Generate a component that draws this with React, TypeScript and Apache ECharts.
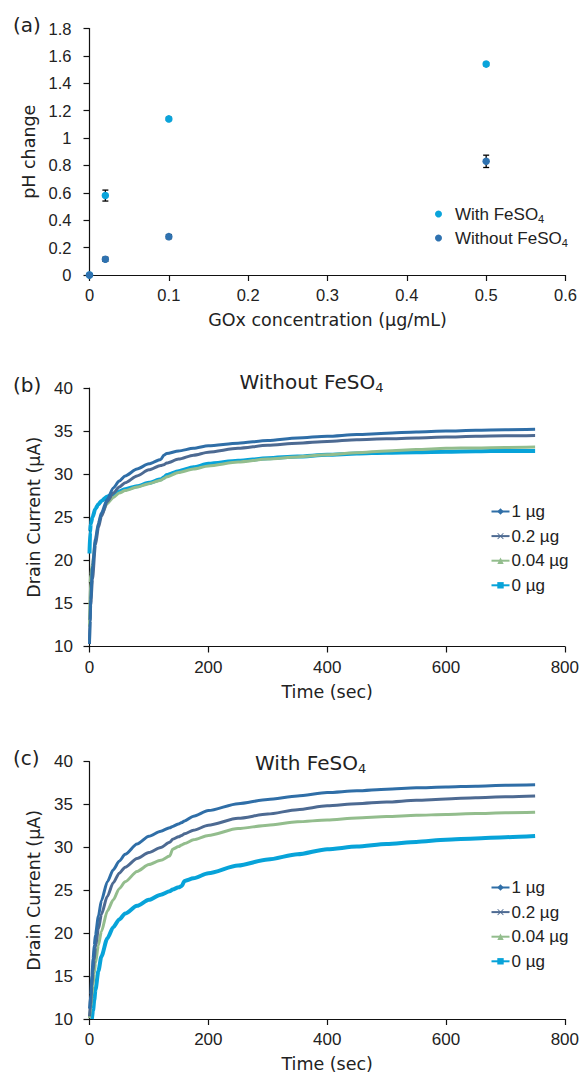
import React, { useEffect, useRef } from 'react';
import * as echarts from 'echarts';

// ---- Panel (a): pH change vs GOx concentration ----
const phX = [0, 0.02, 0.1, 0.5];
const phWith = [0, 0.58, 1.14, 1.54];
const phWithErr = [0.01, 0.04, 0.012, 0.012];
const phWithout = [0, 0.115, 0.28, 0.83];
const phWithoutErr = [0.01, 0.015, 0.015, 0.045];

// ---- Panel (b): Without FeSO4 ----
const timesB = [0, 1, 2, 5, 10, 15, 20, 30, 40, 50, 60, 80, 100, 120, 125, 130, 150, 175, 200, 250, 300, 350, 400, 450, 500, 550, 600, 650, 700, 750];
const b1ug = [10.3, 13, 15.4, 19.3, 22.5, 24.3, 25.5, 27.1, 28.4, 29.2, 29.8, 30.6, 31.2, 31.7, 32.2, 32.4, 32.7, 33.0, 33.3, 33.6, 33.9, 34.2, 34.4, 34.6, 34.75, 34.9, 35.0, 35.1, 35.15, 35.2];
const b02ug = [10.7, 13, 14.8, 17.8, 21.8, 23.8, 25.1, 26.8, 27.8, 28.5, 29.0, 29.8, 30.5, 31.0, 31.1, 31.3, 31.75, 32.2, 32.55, 33.0, 33.35, 33.6, 33.8, 34.0, 34.1, 34.2, 34.3, 34.4, 34.45, 34.5];
const b004ug = [12.3, 17.3, 18.3, 19.6, 22.2, 24.2, 25.3, 26.6, 27.3, 27.8, 28.1, 28.5, 28.9, 29.3, 29.5, 29.7, 30.2, 30.6, 30.95, 31.4, 31.75, 32.0, 32.25, 32.5, 32.7, 32.85, 33.0, 33.05, 33.1, 33.15];
const b0ug = [20.8, 23.3, 24.2, 25.0, 26.0, 26.5, 26.9, 27.4, 27.7, 28.0, 28.25, 28.6, 29.0, 29.4, 29.6, 29.9, 30.35, 30.8, 31.2, 31.55, 31.85, 32.05, 32.25, 32.4, 32.5, 32.55, 32.6, 32.65, 32.7, 32.7];

// ---- Panel (c): With FeSO4 ----
const timesC = [0, 2, 4, 6, 8, 10, 15, 20, 30, 40, 50, 60, 80, 100, 120, 135, 140, 150, 155, 160, 175, 200, 250, 300, 350, 400, 450, 500, 550, 600, 650, 700, 750];
const c1ug = [11.2, 12.8, 15.0, 17.0, 18.6, 19.8, 22.0, 23.8, 26.0, 27.4, 28.4, 29.2, 30.4, 31.3, 31.9, 32.3, 32.45, 32.75, 32.9, 33.1, 33.65, 34.3, 35.1, 35.6, 36.0, 36.4, 36.6, 36.8, 36.95, 37.05, 37.15, 37.25, 37.3];
const c02ug = [10.3, 11.8, 13.8, 15.6, 16.9, 18.4, 20.5, 22.2, 24.3, 25.9, 27.0, 27.7, 28.7, 29.4, 30.0, 30.6, 30.95, 31.25, 31.4, 31.6, 32.0, 32.6, 33.4, 33.9, 34.4, 34.85, 35.1, 35.3, 35.5, 35.65, 35.8, 35.9, 36.0];
const c004ug = [10.1, 11.3, 12.8, 14.0, 15.3, 16.5, 18.6, 20.2, 22.6, 23.9, 25.2, 26.0, 27.2, 28.0, 28.5, 29.0, 29.8, 30.1, 30.3, 30.45, 30.9, 31.4, 32.2, 32.6, 33.0, 33.2, 33.45, 33.6, 33.75, 33.85, 33.95, 34.05, 34.1];
const c0ug = [null, null, 10.0, 11.0, 12.2, 13.4, 15.6, 17.3, 19.4, 20.7, 21.6, 22.3, 23.2, 23.9, 24.5, 24.9, 25.1, 25.35, 25.5, 26.1, 26.4, 27.0, 27.9, 28.6, 29.2, 29.8, 30.1, 30.4, 30.65, 30.9, 31.05, 31.2, 31.35];

const seriesNames = ['1 µg', '0.2 µg', '0.04 µg', '0 µg'];
const seriesColors = ['#2F6EA7', '#4D6A92', '#93BD8D', '#07A3D9'];
const seriesSymbols = [
  'diamond',
  'path://M1,0 L5,4 L9,0 L10,1 L6,5 L10,9 L9,10 L5,6 L1,10 L0,9 L4,5 L0,1Z',
  'triangle',
  'rect',
];
const seriesWidths = [3, 3, 3, 4];

const pHTicks = { min: 0, max: 1.8, interval: 0.2 };
const concTicks = { min: 0, max: 0.6, interval: 0.1 };
const timeTicks = { min: 0, max: 800, interval: 200 };
const currentTicks = { min: 10, max: 40, interval: 5 };

const TICK_FONT = "'Liberation Sans', Arial, sans-serif";
const TITLE_FONT = "'DejaVu Sans', sans-serif";
const AXIS_COLOR = '#111';
const TEXT_COLOR = '#222';

function toPairs(xs: number[], ys: (number | null)[]) {
  return xs.map((x, i) => [x, ys[i]]).filter((d) => d[1] !== null);
}

function errorBarSeries(xs: number[], ys: number[], errs: number[], gridIndex: number) {
  return {
    type: 'custom',
    name: 'err' + gridIndex + ys[1],
    xAxisIndex: gridIndex,
    yAxisIndex: gridIndex,
    z: 1,
    data: xs.map((x, i) => [x, ys[i], errs[i]]),
    renderItem: (params: any, api: any) => {
      const x = api.value(0);
      const y = api.value(1);
      const e = api.value(2);
      const top = api.coord([x, y + e]);
      const bot = api.coord([x, y - e]);
      const cw = 3;
      const st = { stroke: '#000', lineWidth: 1.3 };
      return {
        type: 'group',
        children: [
          { type: 'line', shape: { x1: top[0], y1: top[1], x2: bot[0], y2: bot[1] }, style: st },
          { type: 'line', shape: { x1: top[0] - cw, y1: top[1], x2: top[0] + cw, y2: top[1] }, style: st },
          { type: 'line', shape: { x1: bot[0] - cw, y1: bot[1], x2: bot[0] + cw, y2: bot[1] }, style: st },
        ],
      };
    },
  };
}

function axisCommon(fontSize: number, margin: number) {
  return {
    axisLine: { show: true, lineStyle: { color: AXIS_COLOR, width: 1.2 } },
    axisTick: { show: true, length: 6, lineStyle: { color: AXIS_COLOR, width: 1.2 } },
    splitLine: { show: false },
    axisLabel: { color: TEXT_COLOR, fontFamily: TICK_FONT, fontSize, margin },
    nameTextStyle: { color: TEXT_COLOR, fontFamily: TITLE_FONT, fontSize: 17.5 },
  };
}

const subRich = {
  s: { fontSize: 11, lineHeight: 12, verticalAlign: 'bottom', fontFamily: TICK_FONT, color: TEXT_COLOR },
};
const subRichTitle = {
  s: { fontSize: 13, lineHeight: 14, verticalAlign: 'bottom', fontFamily: TITLE_FONT, fill: TEXT_COLOR, color: TEXT_COLOR },
};

export default function App() {
  const ref = useRef<HTMLDivElement>(null);

  useEffect(() => {
    document.body.style.margin = '0';
    if (!ref.current) return;
    const chart = echarts.init(ref.current, undefined, { renderer: 'svg' });

    const lineSeries = (gridIndex: number, times: number[], arrays: (number | null)[][]) =>
      arrays.map((arr, k) => ({
        type: 'line',
        name: seriesNames[k],
        xAxisIndex: gridIndex,
        yAxisIndex: gridIndex,
        data: toPairs(times, arr),
        showSymbol: false,
        symbol: seriesSymbols[k],
        symbolSize: 6,
        smooth: 0.25,
        smoothMonotone: 'x',
        z: 10 - k,
        lineStyle: { color: seriesColors[k], width: seriesWidths[k] },
        itemStyle: { color: seriesColors[k] },
      }));

    const option: any = {
      animation: false,
      backgroundColor: '#fff',
      grid: [
        { left: 89.5, right: 16.5, top: 28.5, height: 246.5 },
        { left: 89.5, right: 16.7, top: 388, height: 258.5 },
        { left: 89.5, right: 16.7, top: 761.7, height: 260 },
      ],
      xAxis: [
        {
          gridIndex: 0, type: 'value', ...concTicks, ...axisCommon(16.5, 11),
          name: 'GOx concentration (µg/mL)', nameLocation: 'middle', nameGap: 36,
        },
        {
          gridIndex: 1, type: 'value', ...timeTicks, ...axisCommon(17, 12),
          name: 'Time (sec)', nameLocation: 'middle', nameGap: 36,
        },
        {
          gridIndex: 2, type: 'value', ...timeTicks, ...axisCommon(17, 12),
          name: 'Time (sec)', nameLocation: 'middle', nameGap: 36,
        },
      ],
      yAxis: [
        {
          gridIndex: 0, type: 'value', ...pHTicks, ...axisCommon(16.5, 18),
          name: 'pH change', nameLocation: 'middle', nameGap: 40,
        },
        {
          gridIndex: 1, type: 'value', ...currentTicks, ...axisCommon(17, 16.5),
          name: 'Drain Current (µA)', nameLocation: 'middle', nameGap: 37,
        },
        {
          gridIndex: 2, type: 'value', ...currentTicks, ...axisCommon(17, 16.5),
          name: 'Drain Current (µA)', nameLocation: 'middle', nameGap: 37,
        },
      ],
      legend: [
        {
          data: ['With FeSO4', 'Without FeSO4'],
          orient: 'vertical', left: 430, top: 199,
          icon: 'circle', itemWidth: 7, itemHeight: 7, itemGap: 4,
          formatter: (n: string) => n.replace('SO4', 'SO{s|4}'),
          textStyle: { fontFamily: TICK_FONT, fontSize: 17, color: TEXT_COLOR, lineHeight: 20, padding: [0, 0, 0, 8], rich: subRich },
        },
        {
          data: seriesNames,
          orient: 'vertical', left: 485.5, top: 496.5,
          itemWidth: 18, itemHeight: 8, itemGap: 4.6,
          textStyle: { fontFamily: TICK_FONT, fontSize: 17, color: TEXT_COLOR, lineHeight: 20, padding: [0, 0, 0, -3] },
        },
        {
          data: seriesNames,
          orient: 'vertical', left: 485.5, top: 872.5,
          itemWidth: 18, itemHeight: 8, itemGap: 4.6,
          textStyle: { fontFamily: TICK_FONT, fontSize: 17, color: TEXT_COLOR, lineHeight: 20, padding: [0, 0, 0, -3] },
        },
      ],
      graphic: [
        { type: 'text', x: 13, y: 25, style: { text: '(a)', fontFamily: TITLE_FONT, fontSize: 20, fill: TEXT_COLOR, align: 'left', verticalAlign: 'middle' } },
        { type: 'text', x: 13, y: 384.5, style: { text: '(b)', fontFamily: TITLE_FONT, fontSize: 20, fill: TEXT_COLOR, align: 'left', verticalAlign: 'middle' } },
        { type: 'text', x: 13, y: 757.5, style: { text: '(c)', fontFamily: TITLE_FONT, fontSize: 20, fill: TEXT_COLOR, align: 'left', verticalAlign: 'middle' } },
        { type: 'text', x: 311.5, y: 382, style: { text: 'Without FeSO{s|4}', fontFamily: TITLE_FONT, fontSize: 20, fill: TEXT_COLOR, align: 'center', verticalAlign: 'middle', lineHeight: 24, rich: subRichTitle } },
        { type: 'text', x: 310.6, y: 763.3, style: { text: 'With FeSO{s|4}', fontFamily: TITLE_FONT, fontSize: 20, fill: TEXT_COLOR, align: 'center', verticalAlign: 'middle', lineHeight: 24, rich: subRichTitle } },
      ],
      series: [
        errorBarSeries(phX, phWith, phWithErr, 0),
        errorBarSeries(phX, phWithout, phWithoutErr, 0),
        {
          type: 'scatter', name: 'With FeSO4', xAxisIndex: 0, yAxisIndex: 0, z: 3,
          data: toPairs(phX, phWith), symbol: 'circle', symbolSize: 7.5,
          itemStyle: { color: '#0AA4DB', opacity: 1 },
        },
        {
          type: 'scatter', name: 'Without FeSO4', xAxisIndex: 0, yAxisIndex: 0, z: 3,
          data: toPairs(phX, phWithout), symbol: 'circle', symbolSize: 7.5,
          itemStyle: { color: '#2F72B0', opacity: 1 },
        },
        ...lineSeries(1, timesB, [b1ug, b02ug, b004ug, b0ug]),
        ...lineSeries(2, timesC, [c1ug, c02ug, c004ug, c0ug]),
      ],
    };

    chart.setOption(option);
    return () => chart.dispose();
  }, []);

  return <div ref={ref} style={{ width: 582, height: 1074 }} />;
}
